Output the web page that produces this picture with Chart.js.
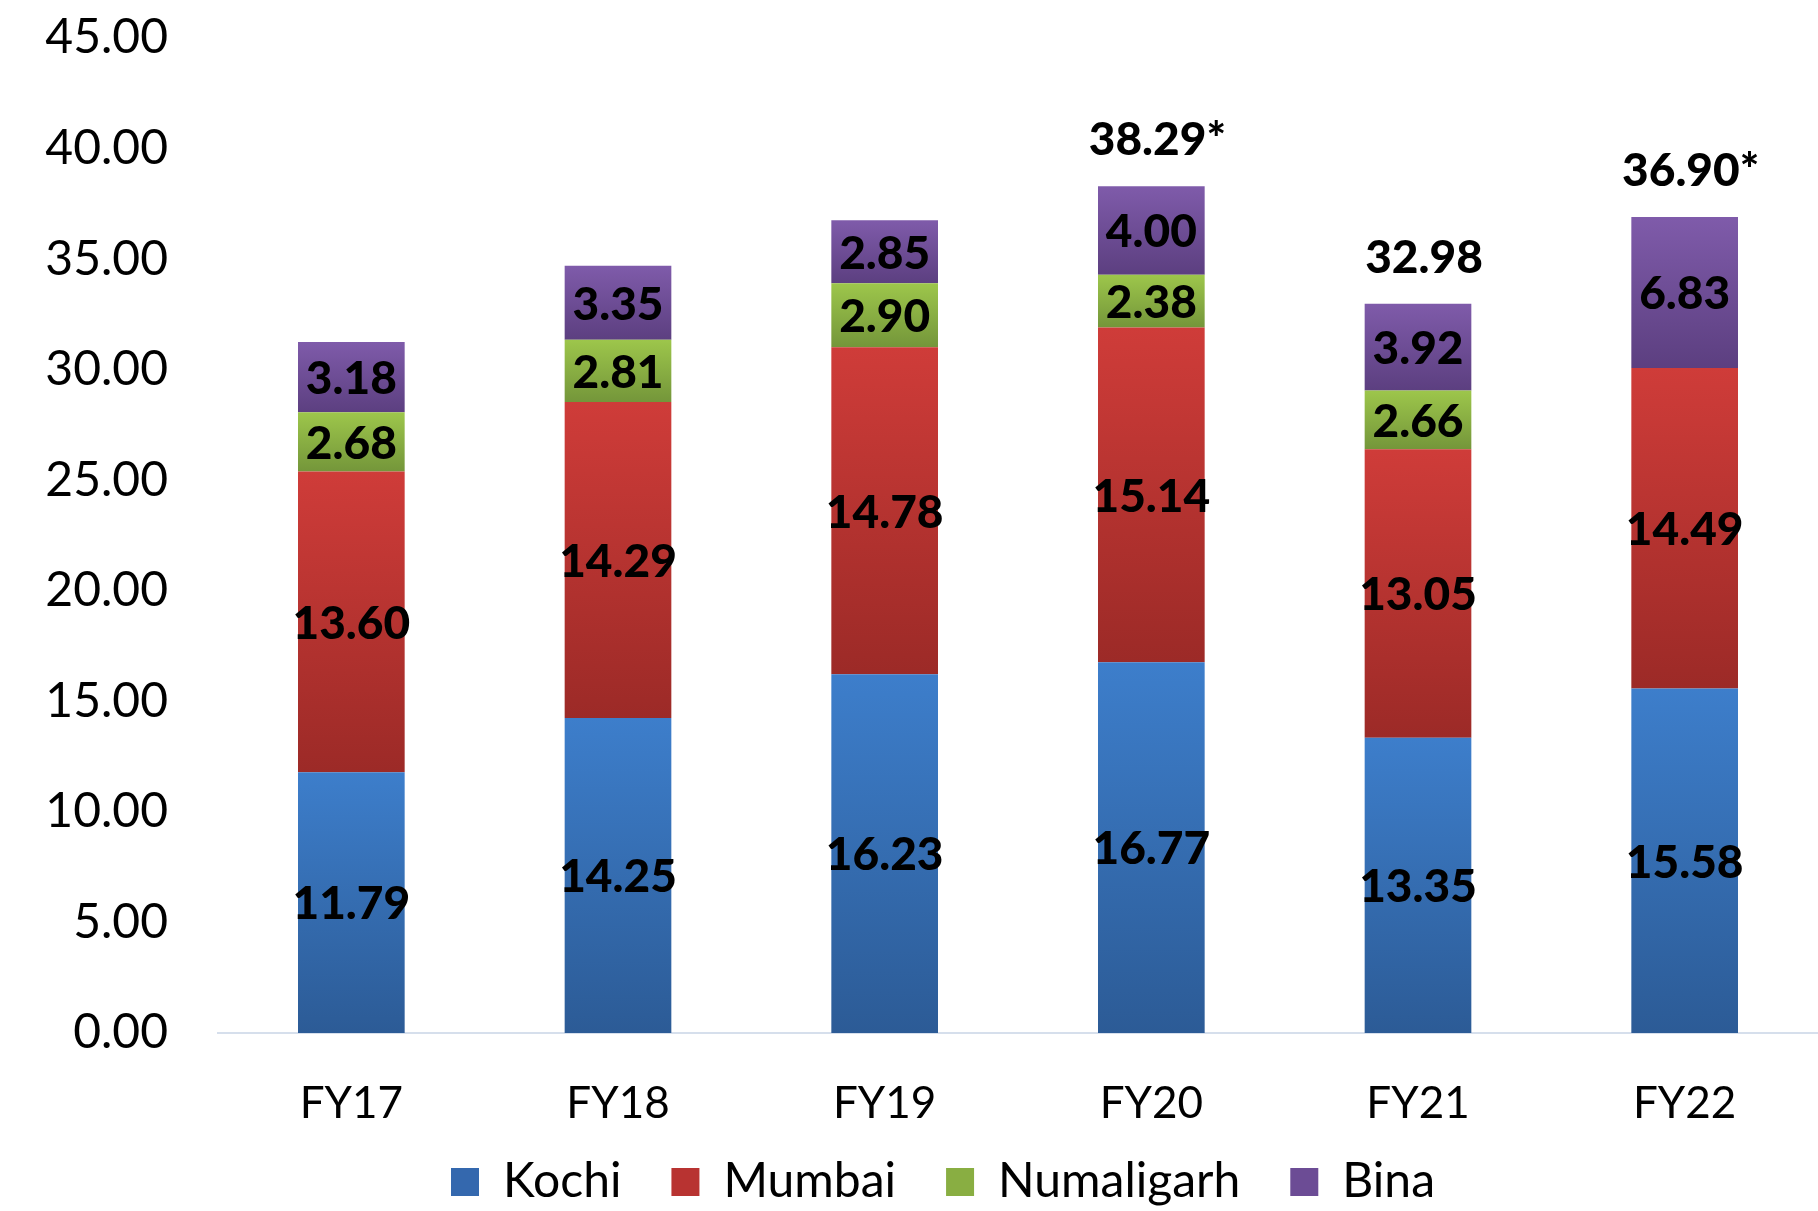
<!DOCTYPE html>
<html><head><meta charset="utf-8">
<script src="https://cdn.jsdelivr.net/npm/chart.js@4.4.0/dist/chart.umd.min.js"></script>
<style>html,body{margin:0;padding:0;background:#fff;} #wrap{width:1818px;height:1211px;position:relative;}</style>
</head><body><div id="wrap"><canvas id="c"></canvas></div>
<script>
const categories = ['FY17','FY18','FY19','FY20','FY21','FY22'];
const seriesNames = ['Kochi','Mumbai','Numaligarh','Bina'];
const kochi = [11.79,14.25,16.23,16.77,13.35,15.58];
const mumbai = [13.60,14.29,14.78,15.14,13.05,14.49];
const numaligarh = [2.68,2.81,2.90,2.38,2.66,0];
const bina = [3.18,3.35,2.85,4.00,3.92,6.83];
const totalLabels = ['','','','38.29*','32.98','36.90*'];

const seriesList = [kochi, mumbai, numaligarh, bina];
const colorsTop = ['#3D7ECB','#CF3C39','#9DC64B','#7F5BAA'];
const colorsBottom = ['#2C5B96','#9C2A27','#74963A','#5C3F80'];
const colorsMid = ['#3468AE','#B83331','#89AE42','#6C4C95'];

function grad(di){
  return (c)=>{
    const chart=c.chart; const ys=chart.scales&&chart.scales.y;
    if(!ys || c.dataIndex===undefined) return colorsMid[di];
    let s=0; for(let k=0;k<di;k++) s+=seriesList[k][c.dataIndex];
    const e=s+seriesList[di][c.dataIndex];
    const y0=ys.getPixelForValue(e), y1=ys.getPixelForValue(s);
    if(!isFinite(y0)||!isFinite(y1)||y0===y1) return colorsMid[di];
    const g=chart.ctx.createLinearGradient(0,y0,0,y1);
    g.addColorStop(0,colorsTop[di]); g.addColorStop(1,colorsBottom[di]); return g;
  };
}

const labelPlugin = {
  id:'labels',
  afterDatasetsDraw(chart){
    const ctx=chart.ctx; ctx.save();
    ctx.font='900 46px Lato'; ctx.fillStyle='#000'; ctx.textAlign='center'; ctx.textBaseline='middle';
    chart.data.datasets.forEach((ds,di)=>{
      const meta=chart.getDatasetMeta(di);
      meta.data.forEach((el,i)=>{ const v=ds.data[i]; if(!v) return; ctx.fillText(v.toFixed(2), el.x, (el.y+el.base)/2+2); });
    });
    const top=chart.getDatasetMeta(chart.data.datasets.length-1);
    totalLabels.forEach((t,i)=>{ if(!t) return; const el=top.data[i]; ctx.fillText(t, el.x+6, el.y-46); });
    ctx.restore();
  }
};

new Chart(document.getElementById('c'), {
  type:'bar',
  data:{
    labels:categories,
    datasets: seriesList.map((d,di)=>({label:seriesNames[di], data:d, backgroundColor:grad(di), borderWidth:0, categoryPercentage:1, barPercentage:0.40}))
  },
  options:{
    responsive:true, maintainAspectRatio:false, animation:false, devicePixelRatio:1,
    layout:{padding:{top:38,left:68,right:0,bottom:-5}},
    plugins:{
      tooltip:{enabled:false},
      legend:{position:'bottom',
        labels:{boxWidth:28,boxHeight:28,padding:50,color:'#000',font:{family:'Lato',size:48},
          generateLabels:(chart)=>seriesNames.map((n,i)=>({text:n,fillStyle:colorsMid[i],strokeStyle:colorsMid[i],lineWidth:0,datasetIndex:i,hidden:false}))}
      }
    },
    scales:{
      x:{stacked:true, grid:{display:false}, border:{display:true,color:'#D6DFEC',width:2},
         ticks:{color:'#000',font:{family:'Lato',size:44},padding:36},
         afterFit:(s)=>{ s.height=75; s._computeLabelArea=()=>undefined; }},
      y:{stacked:true, min:0, max:45, grid:{display:false}, border:{display:false},
         ticks:{stepSize:5,color:'#000',font:{family:'Lato',size:48},padding:42,callback:v=>Number(v).toFixed(2)},
         afterFit:(s)=>{ s.width=150; s.paddingTop=0; s.paddingBottom=0; s._computeLabelArea=()=>undefined; }}
    }
  },
  plugins:[labelPlugin]
});
</script></body></html>
